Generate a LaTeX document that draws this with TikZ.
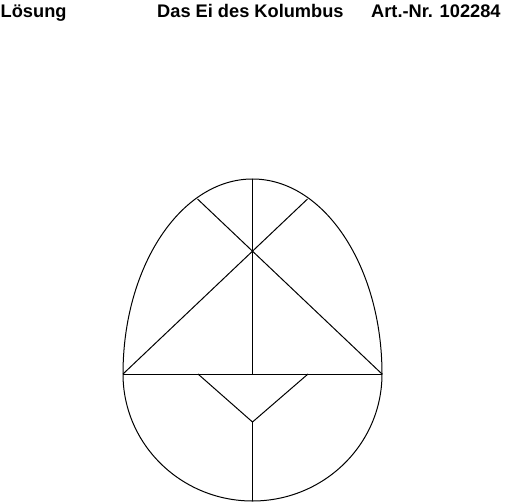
\documentclass[tikz,border=0pt]{standalone}
\usepackage{fontspec}
\setmainfont{Liberation Sans}
\begin{document}
\begin{tikzpicture}[x=1bp,y=-1bp,
  cut/.style={line width=1bp, line join=round},
  hdr/.style={anchor=base west, inner sep=0pt, font=\bfseries\fontsize{18.3}{21}\selectfont}]
\useasboundingbox (0,0) rectangle (504,504);
% header
\node[hdr] (t1) at (0.5,17.5) {Lösung};
\node[hdr] (t2) at (157,17.5) {Das Ei des Kolumbus};
\node[hdr] (t3) at (371,17.5) {Art.-Nr. 102284};
% key points
\coordinate (L) at (123,374);
\coordinate (R) at (382,374);
\coordinate (T) at (252.5,179);
\coordinate (B) at (252.5,501);
\coordinate (M) at (252.5,374);
\coordinate (C) at (252.5,251);
\coordinate (UL) at (197.5,199);
\coordinate (UR) at (307.5,199);
\coordinate (LL) at (198,374);
\coordinate (LR) at (308,374);
\coordinate (V) at (252.5,422);
% egg outline
\draw[cut] (L) arc[start angle=180, end angle=360, x radius=129.5, y radius=195]
           arc[start angle=0, end angle=180, x radius=129.5, y radius=127];
% pieces
\draw[cut] (L) -- (R);
\draw[cut] (T) -- (M);
\draw[cut] (L) -- (UR);
\draw[cut] (R) -- (UL);
\draw[cut] (LL) -- (V) -- (LR);
\draw[cut] (V) -- (B);
\end{tikzpicture}
\end{document}
